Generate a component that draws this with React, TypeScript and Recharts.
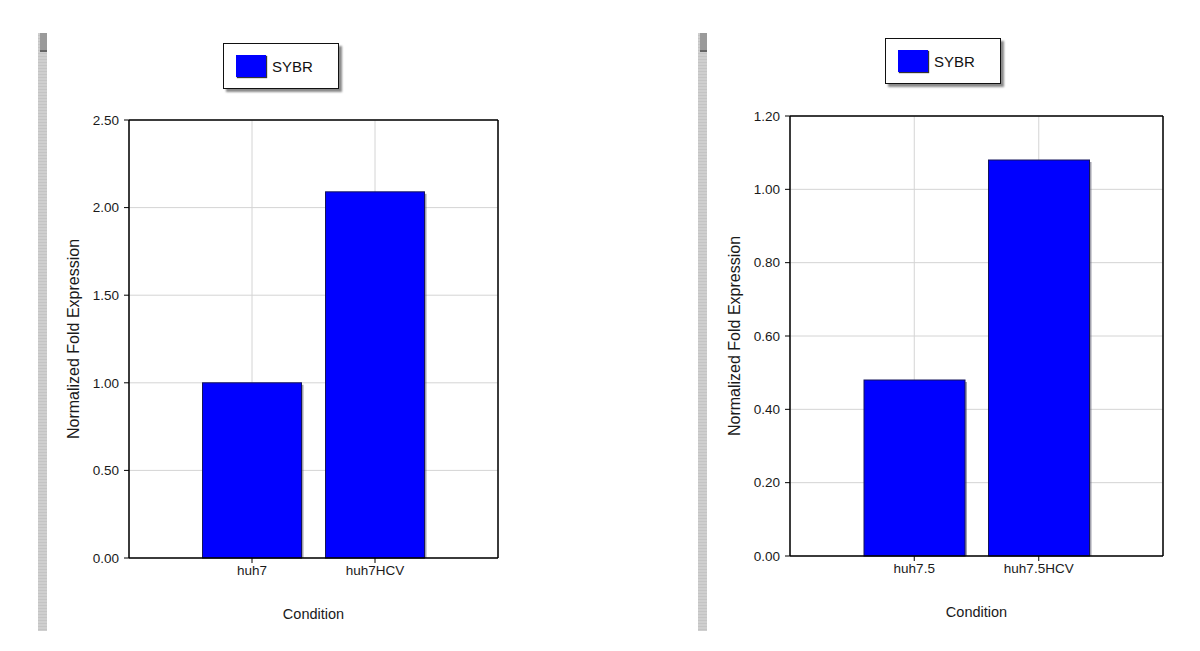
import React from 'react';
import {
  BarChart,
  Bar,
  XAxis,
  YAxis,
  CartesianGrid,
  Legend,
} from 'recharts';

const seriesName = 'SYBR';

const leftCategories = ['huh7', 'huh7HCV'];
const leftValues = [1.0, 2.09];
const leftTicks = [0, 0.5, 1.0, 1.5, 2.0, 2.5];

const rightCategories = ['huh7.5', 'huh7.5HCV'];
const rightValues = [0.48, 1.08];
const rightTicks = [0, 0.2, 0.4, 0.6, 0.8, 1.0, 1.2];

const FONT = '"Liberation Sans", Arial, sans-serif';
const BLUE = '#0000ff';
const axisLine = { stroke: '#000', strokeWidth: 1.5 };

const ShadowBar = (props: any) => {
  const { x, y, width, height } = props;
  if (!width || !height) return null;
  return (
    <g>
      <rect x={x + 2} y={y + 2} width={width} height={height - 2} fill="#55556a" opacity={0.55} />
      <rect x={x} y={y} width={width} height={height} fill={BLUE} stroke="#14145a" strokeWidth={1} />
    </g>
  );
};

const LegendBox = (props: any) => {
  const item = props.payload && props.payload[0];
  return (
    <div
      style={{
        width: 116,
        height: 46,
        boxSizing: 'border-box',
        border: '1.5px solid #111',
        background: '#fff',
        boxShadow: '3px 3px 2px #8a8a8a',
        display: 'flex',
        alignItems: 'center',
        fontFamily: FONT,
        fontSize: 15,
        color: '#111',
      }}
    >
      <span
        style={{
          display: 'inline-block',
          width: 30,
          height: 22,
          marginLeft: 12,
          marginRight: 6,
          background: item ? item.color : BLUE,
          boxShadow: '1px 1px 1px #333',
        }}
      />
      <span>{item ? item.value : seriesName}</span>
    </div>
  );
};

type PanelProps = {
  categories: string[];
  values: number[];
  ticks: number[];
  width: number;
  margin: { top: number; right: number; bottom: number; left: number };
  pad: number;
  legendPos: { left: number; top: number };
};

function Panel({ categories, values, ticks, width, margin, pad, legendPos }: PanelProps) {
  const data = categories.map((c, i) => ({ name: c, value: values[i] }));
  const max = ticks[ticks.length - 1];
  const tickStyle = { fontFamily: FONT, fontSize: 13.5, fill: '#1a1a1a' };
  return (
    <BarChart width={width} height={651} data={data} margin={margin} barCategoryGap={12}>
      <CartesianGrid stroke="#d4d4d4" strokeWidth={1} />
      <XAxis
        dataKey="name"
        padding={{ left: pad, right: pad }}
        height={70}
        axisLine={axisLine}
        tickLine={{ stroke: '#000' }}
        tick={tickStyle}
        tickSize={5}
        tickMargin={2}
        label={{
          value: 'Condition',
          position: 'insideBottom',
          offset: 9,
          style: { fontFamily: FONT, fontSize: 14.5, fill: '#1a1a1a' },
        }}
      />
      <XAxis
        xAxisId="top"
        orientation="top"
        dataKey="name"
        height={1}
        tick={false}
        tickLine={false}
        axisLine={axisLine}
      />
      <YAxis
        domain={[0, max]}
        ticks={ticks}
        width={60}
        axisLine={axisLine}
        tickLine={{ stroke: '#000' }}
        tick={tickStyle}
        tickSize={5}
        tickMargin={5}
        tickFormatter={(v: number) => v.toFixed(2)}
        label={{
          value: 'Normalized Fold Expression',
          angle: -90,
          position: 'insideLeft',
          offset: 4,
          style: { textAnchor: 'middle', fontFamily: FONT, fontSize: 16, fill: '#1a1a1a' },
        }}
      />
      <YAxis yAxisId="right" orientation="right" width={1} tick={false} tickLine={false} axisLine={axisLine} />
      <Legend
        verticalAlign="middle"
        align="center"
        layout="horizontal"
        content={<LegendBox />}
        wrapperStyle={{ left: legendPos.left, top: legendPos.top, width: 116, height: 46 }}
      />
      <Bar dataKey="value" name={seriesName} fill={BLUE} shape={ShadowBar} isAnimationActive={false} />
    </BarChart>
  );
}

const Strip = ({ left }: { left: number }) => (
  <div
    style={{
      position: 'absolute',
      left,
      top: 33,
      width: 9,
      height: 598,
      background: 'repeating-linear-gradient(180deg, #cfcfcf 0px, #cfcfcf 2px, #c4c4c4 2px, #c4c4c4 3px)',
    }}
  >
    <div style={{ position: 'absolute', left: 2, top: 0, width: 7, height: 17, background: '#9a9a9a', borderBottom: '2px solid #666' }} />
  </div>
);

export default function App() {
  return (
    <div style={{ position: 'absolute', left: 0, top: 0, width: 1200, height: 651, background: '#fff', overflow: 'hidden' }}>
      <Strip left={38} />
      <Strip left={698} />
      <div style={{ position: 'absolute', left: 0, top: 0 }}>
        <Panel
          categories={leftCategories}
          values={leftValues}
          ticks={leftTicks}
          width={520}
          margin={{ top: 119, right: 21, bottom: 23, left: 69 }}
          pad={61.5}
          legendPos={{ left: 223, top: 43 }}
        />
      </div>
      <div style={{ position: 'absolute', left: 660, top: 0 }}>
        <Panel
          categories={rightCategories}
          values={rightValues}
          ticks={rightTicks}
          width={540}
          margin={{ top: 115, right: 36, bottom: 25, left: 70 }}
          pad={62}
          legendPos={{ left: 225, top: 38 }}
        />
      </div>
    </div>
  );
}
